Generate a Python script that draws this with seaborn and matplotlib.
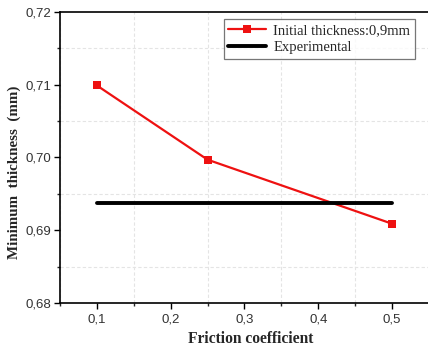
import matplotlib
matplotlib.use("Agg")
import matplotlib.pyplot as plt
import seaborn as sns
import pandas as pd
from matplotlib.ticker import MultipleLocator, FuncFormatter

friction = [0.1, 0.25, 0.5]
min_thickness = [0.7099, 0.6997, 0.6909]
exp_x = [0.1, 0.5]
exp_y = [0.6937, 0.6937]
series_label = "Initial thickness:0,9mm"
exp_label = "Experimental"

sns.set_style("ticks")
fig = plt.figure(figsize=(4.28, 3.52), dpi=100)
ax = fig.add_axes([60/428, 49/352, 1 - 60/428 + 0.002, 291/352])

df = pd.DataFrame({"x": friction, "y": min_thickness})
dfe = pd.DataFrame({"x": exp_x, "y": exp_y})
sns.lineplot(data=df, x="x", y="y", ax=ax, color="#ee1111", lw=1.6,
             marker="s", markersize=5.5, markeredgewidth=0, label=series_label)
sns.lineplot(data=dfe, x="x", y="y", ax=ax, color="black", lw=2.8, label=exp_label)

ax.set_xlim(0.05, 0.55)
ax.set_ylim(0.68, 0.72)
ax.xaxis.set_major_locator(MultipleLocator(0.1))
ax.xaxis.set_minor_locator(MultipleLocator(0.05))
ax.yaxis.set_major_locator(MultipleLocator(0.01))
ax.yaxis.set_minor_locator(MultipleLocator(0.005))
ax.xaxis.set_major_formatter(FuncFormatter(lambda v, p: f"{v:.1f}".replace(".", ",")))
ax.yaxis.set_major_formatter(FuncFormatter(lambda v, p: f"{v:.2f}".replace(".", ",")))

ax.grid(which="minor", color="#e4e4e4", linestyle=(0, (3, 2)), lw=0.8)
ax.grid(which="major", visible=False)
ax.set_axisbelow(True)

for s in ["top", "bottom", "left"]:
    ax.spines[s].set_linewidth(1.2)
    ax.spines[s].set_color("black")
ax.spines["right"].set_visible(False)

ax.tick_params(which="major", direction="out", length=4, width=1, labelsize=9.5, colors="black")
ax.tick_params(axis="y", which="major", pad=2)
ax.tick_params(which="minor", direction="out", length=2.5, width=1)
for lab in ax.get_xticklabels() + ax.get_yticklabels():
    lab.set_family(["Liberation Sans", "DejaVu Sans"])
    lab.set_color("#333333")

ax.set_xlabel("Friction coefficient", family="Liberation Serif", fontweight="bold", fontsize=11.2)
ax.set_ylabel("Minimum  thickness  (mm)", family="Liberation Serif", fontweight="bold", fontsize=10.8)
ax.xaxis.set_label_coords((250 - 60) / 368, -(331 - 303) / 291)
ax.yaxis.set_label_coords(-(39) / 368, (303 - 172) / 291)

leg = ax.legend(loc="upper right", bbox_to_anchor=(0.962, 0.975), frameon=True, fancybox=False,
                edgecolor="#555555", prop={"family": "Liberation Serif", "size": 10.5},
                handlelength=2.6, borderpad=0.3, labelspacing=0.3, handletextpad=0.5, borderaxespad=0)
leg.get_frame().set_linewidth(0.9)

fig.savefig("out.png", dpi=100, facecolor="white")
